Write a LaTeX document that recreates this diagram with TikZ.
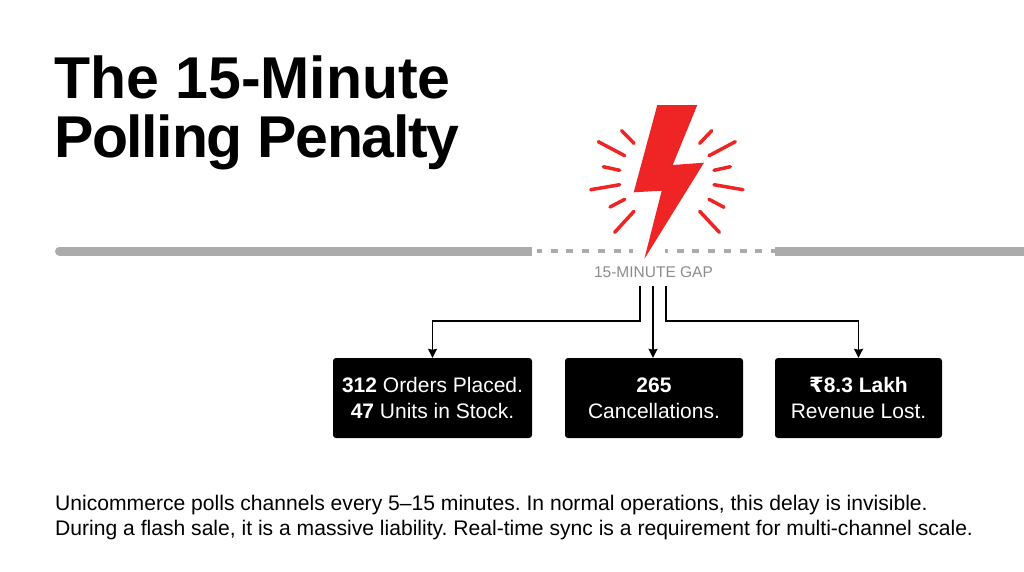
\documentclass[tikz,border=0pt]{standalone}
\usepackage{fontspec}
\setmainfont{Liberation Sans}
\newfontfamily\rupeefont{DejaVu Sans}
\usetikzlibrary {arrows.meta}
\definecolor{boltred}{HTML}{EE2524}
\definecolor{railgray}{HTML}{ABABAB}
\definecolor{gaptext}{HTML}{8C8C8C}

\begin{document}
\begin{tikzpicture} [
        x=1pt, y=-1pt,
        stat/.style={fill=black, rounded corners=3pt, text=white, align=center, minimum height=80pt, inner sep=0pt, font=\fontsize{21}{26}\selectfont},
        title/.style={anchor=north west, align=left, inner sep=0pt, font=\fontsize{59}{59}\selectfont\bfseries},
        note/.style={anchor=north west, align=left, inner sep=0pt, font=\fontsize{21.1}{25}\selectfont\frenchspacing},
        rail/.style={draw=railgray, line width=9pt},
        gap/.style={draw=railgray, line width=3.3pt},
        ray/.style={draw=boltred, line width=3.5pt, line cap=round},
        link/.style={draw=black, line width=1.6pt, -{Stealth[length=9pt,width=9pt,inset=1pt]}} ]
    \useasboundingbox (0,0) rectangle (1024,571);
    \node[title] (head) at (54,56) {The 15-Minute\\\addfontfeature{LetterSpace=-2.3}Polling Penalty};

    % timeline
    \coordinate (r1) at (59.5,251);
    \coordinate (r2) at (532,251);
    \coordinate (r3) at (775,251);
    \coordinate (r4) at (1030,251);
    \coordinate (d0) at (537,251);
    \coordinate (d1) at (633,251);
    \coordinate (d2) at (665,251);
    \draw[rail, line cap=round] (r1) -- (527.5,251);
    \draw[rail] (527.5,251) -- (r2);
    \draw[rail] (r3) -- (r4);
    \draw[gap, dash pattern=on 7pt off 8.7pt, dash phase=2pt] (d0) -- (d1);
    \draw[gap, dash pattern=on 7pt off 8.7pt, dash phase=4pt] (d2) -- (r3);

    % bolt
    \fill[boltred] (657.3,105) -- (697.3,105) -- (672.7,165) -- (704,162.7) -- (644.3,259) -- (661.7,190.7) -- (633.7,192.3) -- cycle;
    \draw[ray] (621.7,130.7) -- (634,143.3)
        (598.3,141.7) -- (624.7,155.7)
        (603.3,166.7) -- (619.7,170.3)
        (590.7,189.7) -- (619.7,184.7)
        (610,207) -- (624.7,199.3)
        (614.7,232.3) -- (634,211.3)
        (711.7,130.7) -- (699.7,143.3)
        (735.3,141.7) -- (709,155.7)
        (730.3,166.7) -- (714,170.3)
        (743,189.7) -- (714,184.7)
        (724,207.3) -- (709,199.3)
        (719.3,232.3) -- (699.7,211.3);

    \node[text=gaptext, font=\fontsize{15.5}{17}\selectfont] (gaplabel) at (653.5,272) {15-MINUTE GAP};

    \node[stat, minimum width=199pt] (b1) at (432.5,398) {\textbf{312} Orders Placed.\\\textbf{47} Units in Stock.};
    \node[stat, minimum width=178pt] (b2) at (654,398) {\textbf{265}\\Cancellations.};
    \node[stat, minimum width=167pt] (b3) at (858.5,398) {{\rupeefont\bfseries ₹}\textbf{8.3 Lakh}\\Revenue Lost.};

    \coordinate (g1) at (640,286);
    \coordinate (g2) at (653,286);
    \coordinate (g3) at (666,286);
    \coordinate (e1) at (640,321);
    \coordinate (e3) at (666,321);
    \draw[link] (g1) -- (e1) -| (b1.north);
    \draw[link] (g2) -- (g2 |- b2.north);
    \draw[link] (g3) -- (e3) -| (b3.north);

    \node[note] (body) at (55,495) {Unicommerce polls channels every 5–15 minutes. In normal operations, this delay is invisible.\\During a flash sale, it is a massive liability. Real-time sync is a requirement for multi-channel scale.};
\end{tikzpicture}
\end{document}
